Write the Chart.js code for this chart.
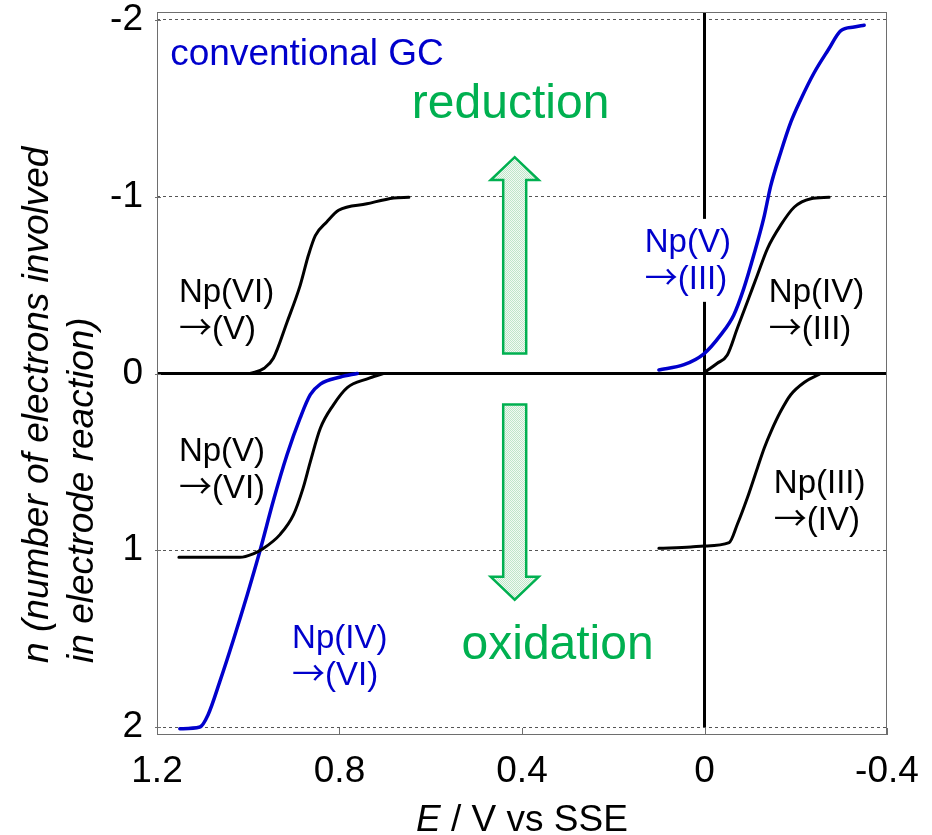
<!DOCTYPE html>
<html>
<head>
<meta charset="utf-8">
<script src="https://cdn.jsdelivr.net/npm/chart.js@4.4.0/dist/chart.umd.min.js"></script>
<style>
  html, body { margin: 0; padding: 0; background: #fff; }
  #wrap { width: 932px; height: 835px; }
</style>
</head>
<body>
<div id="wrap"><canvas id="chart" width="932" height="835"></canvas></div>
<script>
// tick values
const xTicks = [1.2, 0.8, 0.4, 0, -0.4];
const yTicks = [-2, -1, 0, 1, 2];

// E (V vs SSE) and n for each wave
// Np(VI) -> (V)
const np6to5E = [0.996, 0.965, 0.945, 0.915, 0.886, 0.868, 0.853, 0.828, 0.802, 0.740, 0.681, 0.648];
const np6to5N = [0.00, -0.03, -0.086, -0.29, -0.50, -0.67, -0.78, -0.857, -0.923, -0.96, -0.993, -0.997];
// Np(V) -> (VI)
const np5to6E = [1.152, 1.018, 0.989, 0.967, 0.930, 0.901, 0.880, 0.864, 0.842, 0.814, 0.783, 0.739, 0.704];
const np5to6N = [1.04, 1.04, 1.02, 0.99, 0.91, 0.80, 0.65, 0.50, 0.31, 0.18, 0.08, 0.03, 0.00];
// Np(IV) -> (VI), conventional GC
const np4to6E = [1.150, 1.106, 1.088, 1.062, 1.033, 1.002, 0.974, 0.945, 0.915, 0.886, 0.864, 0.842, 0.798, 0.761];
const np4to6N = [2.01, 2.00, 1.93, 1.74, 1.51, 1.25, 1.00, 0.72, 0.46, 0.25, 0.12, 0.06, 0.02, 0.00];
// Np(V) -> (III), conventional GC
const np5to3E = [0.100, 0.045, 0.002, -0.036, -0.064, -0.086, -0.108, -0.130, -0.145, -0.167, -0.189, -0.211, -0.240, -0.271, -0.299, -0.328, -0.350];
const np5to3N = [-0.02, -0.05, -0.11, -0.22, -0.33, -0.48, -0.67, -0.88, -1.06, -1.25, -1.42, -1.55, -1.70, -1.83, -1.94, -1.96, -1.97];
// Np(IV) -> (III)
const np4to3E = [-0.003, -0.028, -0.050, -0.072, -0.094, -0.116, -0.138, -0.167, -0.197, -0.233, -0.273];
const np4to3N = [-0.011, -0.058, -0.105, -0.256, -0.406, -0.557, -0.707, -0.839, -0.942, -0.989, -0.997];
// Np(III) -> (IV)
const np3to4E = [0.100, 0.030, 0.001, -0.054, -0.072, -0.094, -0.116, -0.131, -0.146, -0.167, -0.189, -0.219, -0.252];
const np3to4N = [0.989, 0.981, 0.976, 0.957, 0.853, 0.703, 0.534, 0.421, 0.327, 0.214, 0.120, 0.049, 0.004];

const FONT = "'Liberation Sans', Arial, sans-serif";
const ARROW_FONT = "'Noto Sans CJK JP', 'DejaVu Sans', sans-serif";
const BLACK = '#000000';
const BLUE = '#0000cc';
const GREEN = '#00b050';
const FRAME = '#6e6e6e';

// text notes placed in data coordinates (E, n) = left edge / baseline of first line
const notes = [
  { lines: ['conventional GC'], x: 1.171, y: -1.743, color: BLUE, size: 37 },
  { lines: ['reduction'], x: 0.425, y: -1.444, color: GREEN, size: 48, align: 'center' },
  { lines: ['oxidation'], x: 0.322, y: 1.613, color: GREEN, size: 48, align: 'center' },
  { lines: ['Np(VI)', '\u2192(V)'], x: 1.152, y: -0.406, color: BLACK, size: 33 },
  { lines: ['Np(V)', '\u2192(VI)'], x: 1.152, y: 0.496, color: BLACK, size: 33 },
  { lines: ['Np(IV)', '\u2192(VI)'], x: 0.904, y: 1.551, color: BLUE, size: 33 },
  { lines: ['Np(V)', '\u2192(III)'], x: 0.131, y: -0.688, color: BLUE, size: 33, boxed: true },
  { lines: ['Np(IV)', '\u2192(III)'], x: -0.141, y: -0.406, color: BLACK, size: 33 },
  { lines: ['Np(III)', '\u2192(IV)'], x: -0.152, y: 0.677, color: BLACK, size: 33 },
];

// block arrows: tail, head base and tip on the n axis
const arrows = [
  { x: 0.416, tail: -0.113, base: -1.094, tip: -1.224 },
  { x: 0.416, tail: 0.175, base: 1.150, tip: 1.280 },
];

function pts(E, N) {
  return E.map((e, i) => ({ x: e, y: N[i] }));
}

function wave(E, N, color, width) {
  return {
    data: pts(E, N),
    borderColor: color,
    borderWidth: width,
    pointRadius: 0,
    fill: false,
    cubicInterpolationMode: 'monotone',
    borderCapStyle: 'round',
    borderJoinStyle: 'round',
  };
}

function dotPattern(ctx) {
  const c = document.createElement('canvas');
  c.width = 2; c.height = 2;
  const p = c.getContext('2d');
  p.fillStyle = '#f1faf3';
  p.fillRect(0, 0, 2, 2);
  p.fillStyle = '#bfe5c9';
  p.fillRect(0, 0, 1, 1);
  p.fillRect(1, 1, 1, 1);
  return ctx.createPattern(c, 'repeat');
}

// draws a line; a leading arrow glyph is set in a font with a long arrow
function lineWidthOf(ctx, text, size) {
  if (text[0] !== '\u2192') {
    ctx.font = `${size}px ${FONT}`;
    return ctx.measureText(text).width;
  }
  ctx.font = `${size}px ${ARROW_FONT}`;
  const a = ctx.measureText('\u2192').width;
  ctx.font = `${size}px ${FONT}`;
  return a + ctx.measureText(text.slice(1)).width;
}

function drawLine(ctx, text, px, py, size) {
  if (text[0] !== '\u2192') {
    ctx.font = `${size}px ${FONT}`;
    ctx.fillText(text, px, py);
    return;
  }
  ctx.font = `${size}px ${ARROW_FONT}`;
  const a = ctx.measureText('\u2192').width;
  ctx.fillText('\u2192', px, py);
  ctx.font = `${size}px ${FONT}`;
  ctx.fillText(text.slice(1), px + a, py);
}

const extras = {
  id: 'extras',
  beforeDatasetsDraw(chart) {
    const { ctx, chartArea, scales: { x, y } } = chart;
    // vertical line at E = 0
    ctx.save();
    ctx.strokeStyle = BLACK;
    ctx.lineWidth = 3;
    const x0 = x.getPixelForValue(0);
    ctx.beginPath();
    ctx.moveTo(x0, chartArea.top);
    ctx.lineTo(x0, y.getPixelForValue(2));
    ctx.stroke();
    ctx.restore();
  },
  afterDraw(chart) {
    const { ctx, chartArea, scales: { x, y } } = chart;
    ctx.save();

    // frame
    ctx.strokeStyle = FRAME;
    ctx.lineWidth = 1;
    ctx.strokeRect(chartArea.left + 0.5, chartArea.top + 0.5, chartArea.width - 1, chartArea.height - 1);

    // inward tick marks
    ctx.beginPath();
    xTicks.forEach((v) => {
      const px = Math.round(x.getPixelForValue(v)) + 0.5;
      ctx.moveTo(px, chartArea.bottom);
      ctx.lineTo(px, chartArea.bottom - 7);
    });
    yTicks.forEach((v) => {
      const py = Math.round(y.getPixelForValue(v)) + 0.5;
      ctx.moveTo(chartArea.left - 2, py);
      ctx.lineTo(chartArea.left + 4, py);
    });
    ctx.stroke();

    // block arrows
    const fillPat = dotPattern(ctx);
    arrows.forEach((a) => {
      const cx = x.getPixelForValue(a.x);
      const yt = y.getPixelForValue(a.tail);
      const yb = y.getPixelForValue(a.base);
      const yp = y.getPixelForValue(a.tip);
      const sw = 11.5, hw = 24;
      ctx.beginPath();
      ctx.moveTo(cx - sw, yt);
      ctx.lineTo(cx - sw, yb);
      ctx.lineTo(cx - hw, yb);
      ctx.lineTo(cx, yp);
      ctx.lineTo(cx + hw, yb);
      ctx.lineTo(cx + sw, yb);
      ctx.lineTo(cx + sw, yt);
      ctx.closePath();
      ctx.fillStyle = fillPat;
      ctx.fill();
      ctx.strokeStyle = GREEN;
      ctx.lineWidth = 2.5;
      ctx.lineJoin = 'miter';
      ctx.stroke();
    });

    // notes
    notes.forEach((n) => {
      ctx.textBaseline = 'alphabetic';
      ctx.textAlign = n.align || 'left';
      const px = x.getPixelForValue(n.x);
      const py = y.getPixelForValue(n.y);
      const lh = n.size * 1.12;
      if (n.boxed) {
        const w = Math.max(...n.lines.map((l) => lineWidthOf(ctx, l, n.size)));
        ctx.fillStyle = '#ffffff';
        ctx.fillRect(px - 4, py - n.size, w + 8, lh * (n.lines.length - 1) + n.size + 13);
      }
      ctx.fillStyle = n.color;
      n.lines.forEach((l, i) => drawLine(ctx, l, px, py + i * lh, n.size));
    });

    // x axis title: "E / V vs SSE" with italic E
    const midX = (chartArea.left + chartArea.right) / 2;
    const baseX = chartArea.bottom + 96;
    ctx.fillStyle = BLACK;
    ctx.textAlign = 'left';
    ctx.font = `italic 37px ${FONT}`;
    const wE = ctx.measureText('E').width;
    ctx.font = `37px ${FONT}`;
    const wRest = ctx.measureText(' / V vs SSE').width;
    const sx = midX - (wE + wRest) / 2;
    ctx.font = `italic 37px ${FONT}`;
    ctx.fillText('E', sx, baseX);
    ctx.font = `37px ${FONT}`;
    ctx.fillText(' / V vs SSE', sx + wE, baseX);

    // y axis title, two lines, rotated
    ctx.font = `italic 37px ${FONT}`;
    const yStart = y.getPixelForValue(1.637);
    [['n (number of electrons involved', 48], ['in electrode reaction)', 93]].forEach(([t, bx]) => {
      ctx.save();
      ctx.translate(bx, yStart);
      ctx.rotate(-Math.PI / 2);
      ctx.fillText(t, 0, 0);
      ctx.restore();
    });

    ctx.restore();
  },
};

new Chart(document.getElementById('chart'), {
  type: 'line',
  data: {
    datasets: [
      wave(np6to5E, np6to5N, BLACK, 3),
      wave(np5to6E, np5to6N, BLACK, 3),
      wave(np4to3E, np4to3N, BLACK, 3),
      wave(np3to4E, np3to4N, BLACK, 3),
      wave(np4to6E, np4to6N, BLUE, 3.5),
      wave(np5to3E, np5to3N, BLUE, 3.5),
    ],
  },
  options: {
    responsive: false,
    animation: false,
    layout: { padding: { top: 12, right: 45, left: 0, bottom: 0 } },
    plugins: { legend: { display: false }, tooltip: { enabled: false } },
    scales: {
      x: {
        type: 'linear',
        min: -0.4,
        max: 1.2,
        reverse: true,
        afterBuildTicks(scale) { scale.ticks = xTicks.map((v) => ({ value: v })); },
        afterFit(scale) {
          scale.height = 100;
          scale.paddingLeft = 0; scale.paddingRight = 0;
          scale.paddingTop = 0; scale.paddingBottom = 0;
        },
        grid: { display: false, drawTicks: false },
        border: { display: false },
        ticks: {
          autoSkip: false,
          maxRotation: 0,
          padding: 15,
          color: BLACK,
          font: { family: FONT, size: 37 },
          callback: (v) => String(v),
        },
      },
      y: {
        type: 'linear',
        min: -2.045,
        max: 2.045,
        reverse: true,
        afterBuildTicks(scale) { scale.ticks = yTicks.map((v) => ({ value: v })); },
        afterFit(scale) {
          scale.width = 157;
          scale.paddingLeft = 0; scale.paddingRight = 0;
          scale.paddingTop = 0; scale.paddingBottom = 0;
        },
        grid: {
          drawTicks: false,
          color: (c) => (c.tick && c.tick.value === 0 ? BLACK : '#555555'),
          lineWidth: (c) => (c.tick && c.tick.value === 0 ? 3 : 1),
        },
        border: {
          display: false,
          dash: (c) => (c.tick && c.tick.value === 0 ? [] : [3, 3]),
        },
        ticks: {
          autoSkip: false,
          padding: 14,
          color: BLACK,
          font: { family: FONT, size: 37 },
          callback: (v) => String(v),
        },
      },
    },
  },
  plugins: [extras],
});
</script>
</body>
</html>
